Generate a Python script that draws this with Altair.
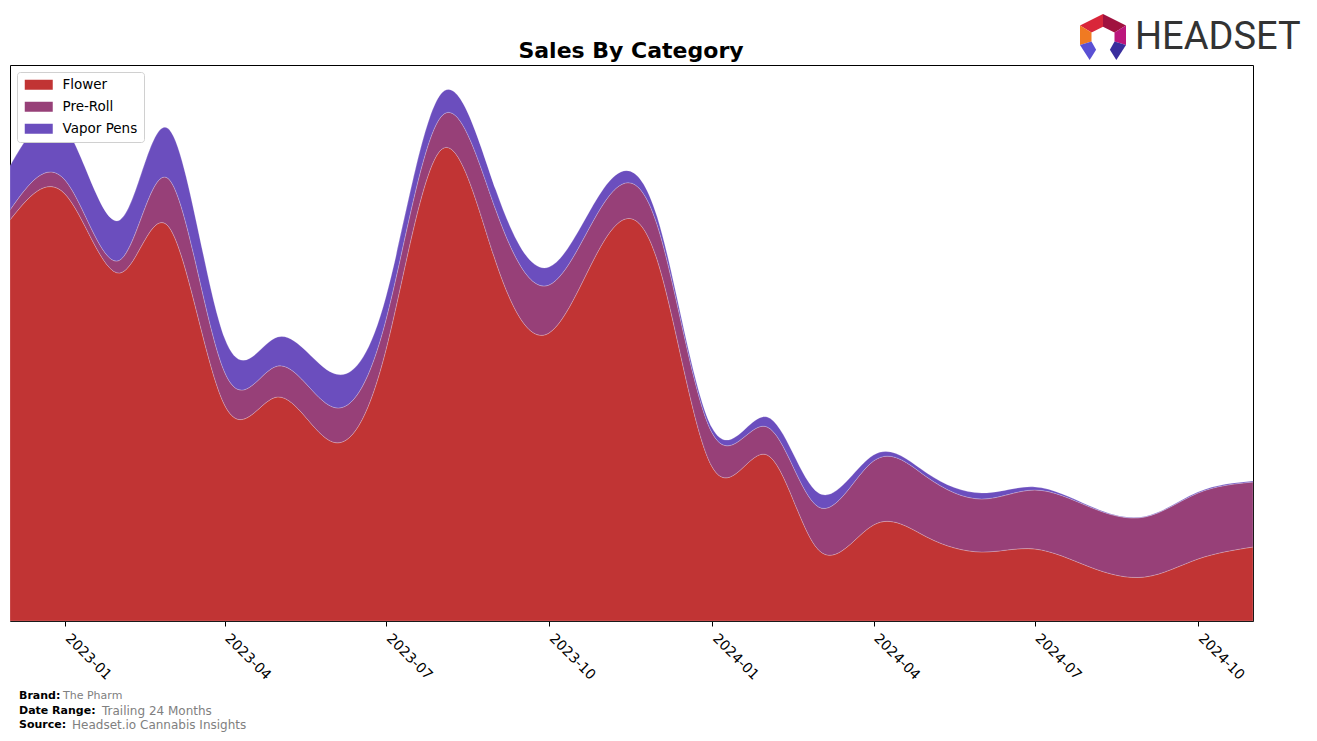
import altair as alt
import pandas as pd

# ---- data (arbitrary sales units) ----
months = ["2022-12-01", "2023-01-01", "2023-02-01", "2023-03-01", "2023-04-01", "2023-05-01",
          "2023-06-01", "2023-07-01", "2023-08-01", "2023-09-01", "2023-10-01", "2023-11-01",
          "2023-12-01", "2024-01-01", "2024-02-01", "2024-03-01", "2024-04-01", "2024-05-01",
          "2024-06-01", "2024-07-01", "2024-08-01", "2024-09-01", "2024-10-01", "2024-11-01"]
flower = [401, 427, 348, 393, 216, 224, 179, 271, 471, 359, 288, 380,
          361, 154, 166, 71, 96, 84, 69, 72, 54, 44, 62, 74]
pre_roll = [10, 14, 13, 48, 33, 31, 35, 30, 33, 52, 48, 38,
            35, 34, 28, 43, 64, 60, 53, 59, 60, 60, 66, 65]
vapor_pens = [44, 53, 40, 50, 34, 29, 34, 23, 23, 20, 18, 15,
              8, 5, 10, 14, 6, 4, 6, 3, 1, 0.5, 1, 1]
categories = ["Flower", "Pre-Roll", "Vapor Pens"]
colors = ["#C13434", "#974078", "#6B4EBE"]
tick_years_months = [(2023, 1), (2023, 4), (2023, 7), (2023, 10),
                     (2024, 1), (2024, 4), (2024, 7), (2024, 10)]

series = [flower, pre_roll, vapor_pens]
rows = []
for i, m in enumerate(months):
    for k, cat in enumerate(categories):
        rows.append({"month": m, "category": cat, "sales": series[k][i], "order": k})
df = pd.DataFrame(rows)

W, H = 1243, 556
YMAX = 556

area = alt.Chart(df).mark_area(
    interpolate="natural", stroke="white", strokeWidth=0.6, strokeOpacity=0.35, opacity=1
).encode(
    x=alt.X("month:T",
            scale=alt.Scale(type="utc", nice=False,
                            domain=[alt.DateTime(year=2022, month=12, date=1, utc=True),
                                    alt.DateTime(year=2024, month=11, date=1, utc=True)]),
            axis=alt.Axis(values=[alt.DateTime(year=y, month=mo, date=1, utc=True) for y, mo in tick_years_months],
                          labelExpr="utcFormat(datum.value, '%Y-%m')", labelAngle=45, labelAlign="left",
                          labelBaseline="top", labelFontSize=14, labelColor="black",
                          labelFont="DejaVu Sans", tickColor="black", tickSize=5, tickWidth=1,
                          domain=False, grid=False, title=None, labelPadding=5, labelOffset=7,
                          labelOverlap=False)),
    y=alt.Y("sales:Q", stack="zero", scale=alt.Scale(domain=[0, YMAX], nice=False), axis=None),
    color=alt.Color("category:N", scale=alt.Scale(domain=categories, range=colors),
                    legend=alt.Legend(title=None, orient="top-left", offset=7,
                                      symbolType="M-2.8,-1L2.8,-1L2.8,1L-2.8,1Z", symbolSize=100,
                                      symbolStrokeWidth=0, symbolOffset=9, symbolOpacity=1,
                                      labelFontSize=13.5, labelFont="DejaVu Sans", labelColor="black",
                                      labelOffset=17, fillColor="white", strokeColor="#d0d0d0",
                                      cornerRadius=3, padding=6, rowPadding=7)),
    order=alt.Order("order:Q", sort="ascending"),
)


def label(text, x, y, size, color="black", weight="normal", align="left", font="DejaVu Sans"):
    return alt.Chart(pd.DataFrame({"t": [text]})).mark_text(
        align=align, baseline="middle", fontSize=size, fontWeight=weight, color=color, font=font
    ).encode(x=alt.value(x), y=alt.value(y), text="t:N")


title = label("Sales By Category", 621, -14, 22, weight="bold", align="center")
footer = [
    label("Brand:", 9, 631, 11, weight="bold"),
    label("The Pharm", 53, 631, 11, color="#808080"),
    label("Date Range:", 9, 646, 11, weight="bold"),
    label("Trailing 24 Months", 92, 646, 12, color="#808080"),
    label("Source:", 9, 660, 11, weight="bold"),
    label("Headset.io Cannabis Insights", 62, 660, 12, color="#808080"),
]
logo_text = label("HEADSET", 1125, -27, 38, color="#333333", font="Roboto")

logo_parts = [
    ("M0,-1L-1,-0.5L-0.5,-0.2L0,-0.45Z", "#D9263A"),
    ("M0,-1L1,-0.5L0.5,-0.2L0,-0.45Z", "#A0123F"),
    ("M-1,-0.5L-1,0.35L-0.5,0.2L-0.5,-0.2Z", "#F07A22"),
    ("M1,-0.5L1,0.35L0.5,0.2L0.5,-0.2Z", "#BC167C"),
    ("M-1,0.35L-0.5,0.2L-0.3,0.55L-0.58,1Z", "#5A50D4"),
    ("M1,0.35L0.5,0.2L0.3,0.55L0.58,1Z", "#3A2E9E"),
]
logo = [
    alt.Chart(pd.DataFrame({"a": [0]})).mark_point(
        shape=p, size=2116, filled=True, fill=c, strokeWidth=0, opacity=1
    ).encode(x=alt.value(1093), y=alt.value(-28))
    for p, c in logo_parts
]

chart = alt.layer(area, title, *footer, logo_text, *logo).properties(
    width=W, height=H,
    autosize=alt.AutoSizeParams(type="none"),
    padding={"left": 10, "top": 65, "right": 64, "bottom": 120},
    background="white",
).configure_view(stroke="black", strokeWidth=1)

chart.save("out.html", embed_options={"renderer": "svg", "actions": False})
